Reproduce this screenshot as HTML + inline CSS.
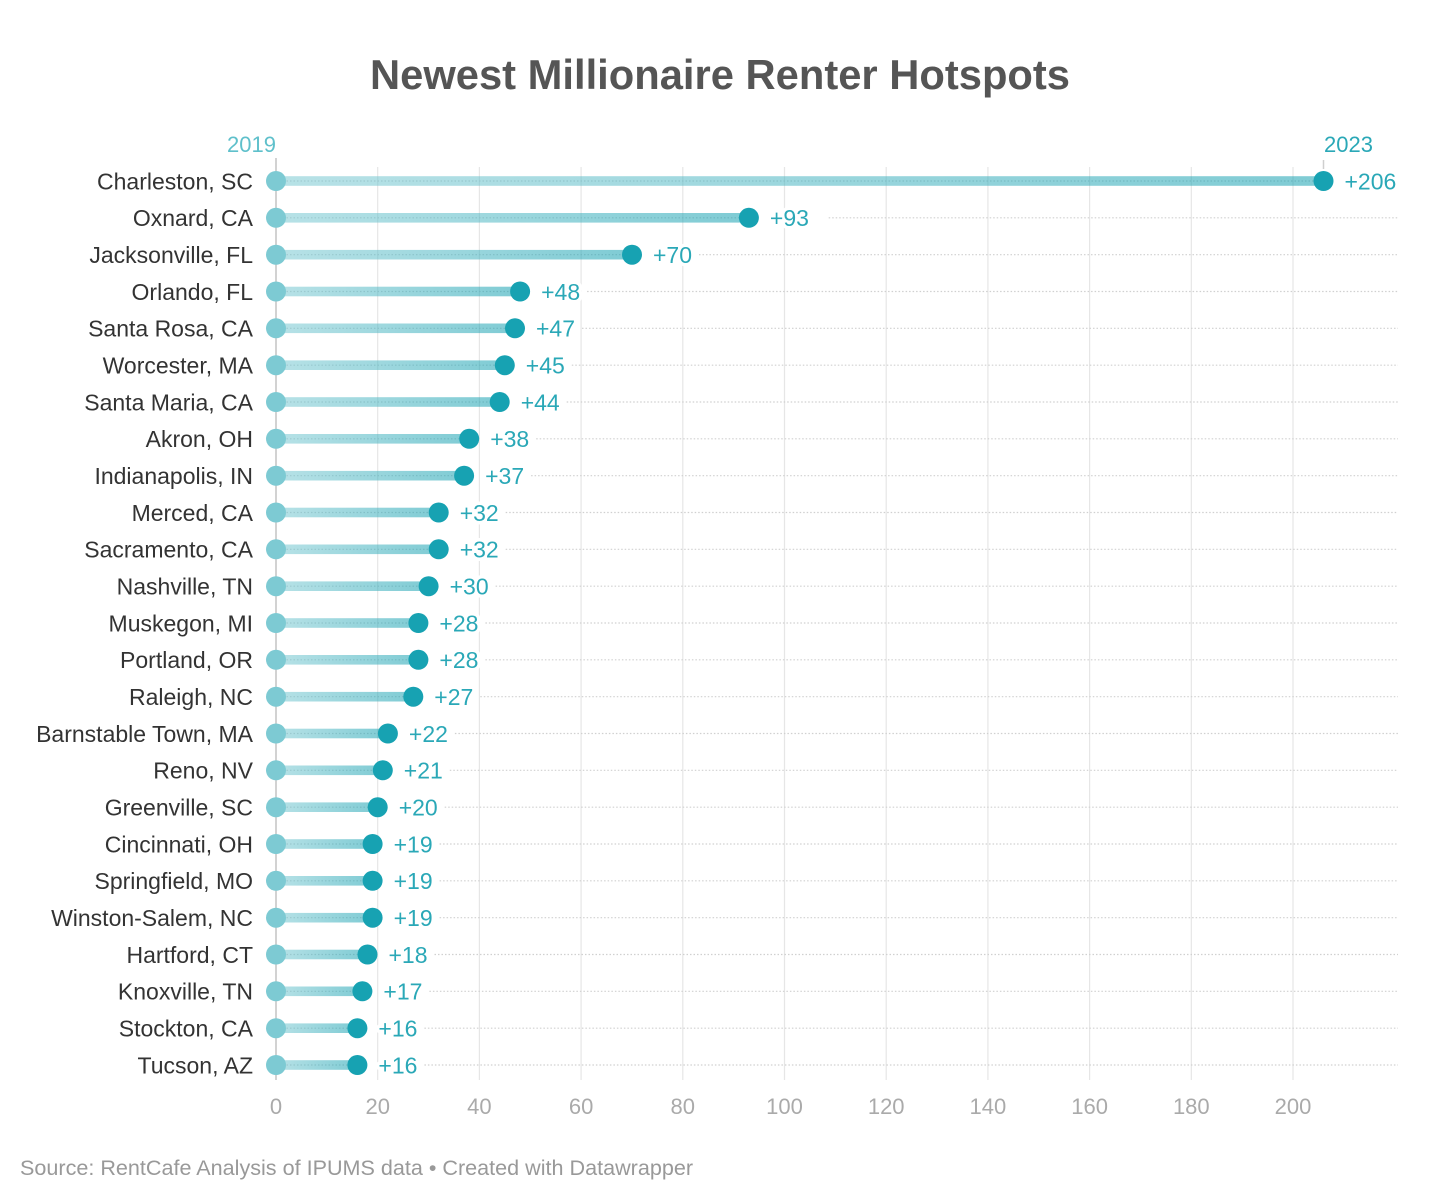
<!DOCTYPE html>
<html><head><meta charset="utf-8"><style>
html,body{margin:0;padding:0;background:#fff;}
svg{display:block;}
text{font-family:"Liberation Sans",Arial,sans-serif;}
.dl{stroke:#d0d0d0;stroke-width:1.2;stroke-dasharray:1.5 2;}
.bar{fill:url(#g);}
.s{fill:#7dcad3;}
.e{fill:#17a2b2;}
.n{font-size:23px;fill:#333;text-anchor:end;}
.v{font-size:23px;fill:#2aa8b7;stroke:#fff;stroke-width:7px;stroke-linejoin:round;paint-order:stroke;}
</style></head><body>
<svg width="1440" height="1202" viewBox="0 0 1440 1202" xmlns="http://www.w3.org/2000/svg">
<defs>
<linearGradient id="g" x1="0" y1="0" x2="1" y2="0">
<stop offset="0" stop-color="#7dcad3" stop-opacity="0.55"/>
<stop offset="1" stop-color="#16a1b1" stop-opacity="0.55"/>
</linearGradient>
</defs>
<rect width="1440" height="1202" fill="#fff"/>
<text x="720" y="89" text-anchor="middle" font-size="42" font-weight="bold" fill="#555" textLength="700" lengthAdjust="spacingAndGlyphs">Newest Millionaire Renter Hotspots</text>
<g stroke="#e6e6e6" stroke-width="1.2">
<line x1="377.7" y1="167" x2="377.7" y2="1080"/>
<line x1="479.4" y1="167" x2="479.4" y2="1080"/>
<line x1="581.1" y1="167" x2="581.1" y2="1080"/>
<line x1="682.8" y1="167" x2="682.8" y2="1080"/>
<line x1="784.5" y1="167" x2="784.5" y2="1080"/>
<line x1="886.2" y1="167" x2="886.2" y2="1080"/>
<line x1="987.9" y1="167" x2="987.9" y2="1080"/>
<line x1="1089.6" y1="167" x2="1089.6" y2="1080"/>
<line x1="1191.3" y1="167" x2="1191.3" y2="1080"/>
<line x1="1293" y1="167" x2="1293" y2="1080"/>
</g>
<line x1="276" y1="158" x2="276" y2="1080" stroke="#c4c4c4" stroke-width="1.5"/>
<line x1="1323.5" y1="160" x2="1323.5" y2="169" stroke="#cfcfcf" stroke-width="1.5"/>
<text x="276" y="152" text-anchor="end" font-size="22" fill="#5fc0cb">2019</text>
<text x="1324" y="152" text-anchor="start" font-size="22" fill="#2aa8b7">2023</text>
<g font-size="22" fill="#aaa" text-anchor="middle">
<text x="276" y="1114">0</text><text x="377.7" y="1114">20</text><text x="479.4" y="1114">40</text><text x="581.1" y="1114">60</text><text x="682.8" y="1114">80</text><text x="784.5" y="1114">100</text><text x="886.2" y="1114">120</text><text x="987.9" y="1114">140</text><text x="1089.6" y="1114">160</text><text x="1191.3" y="1114">180</text><text x="1293" y="1114">200</text>
</g>

<g transform="translate(0,181)">
<line class="dl" x1="276" y1="0" x2="1323.5" y2="0"/>
<rect class="bar" x="276" y="-4.8" width="1047.5" height="9.6"/>
<circle class="s" cx="276" cy="0" r="10"/><circle class="e" cx="1323.5" cy="0" r="10"/>
<text class="n" x="253" y="8.3">Charleston, SC</text><text class="v" x="1344.5" y="8.3">+206</text>
</g>
<g transform="translate(0,217.8)">
<line class="dl" x1="276" y1="0" x2="748.9" y2="0"/><line class="dl" x1="828.7" y1="0" x2="1398" y2="0"/>
<rect class="bar" x="276" y="-4.8" width="472.9" height="9.6"/>
<circle class="s" cx="276" cy="0" r="10"/><circle class="e" cx="748.9" cy="0" r="10"/>
<text class="n" x="253" y="8.3">Oxnard, CA</text><text class="v" x="769.9" y="8.3">+93</text>
</g>
<g transform="translate(0,254.7)">
<line class="dl" x1="276" y1="0" x2="632" y2="0"/><line class="dl" x1="699" y1="0" x2="1398" y2="0"/>
<rect class="bar" x="276" y="-4.8" width="356" height="9.6"/>
<circle class="s" cx="276" cy="0" r="10"/><circle class="e" cx="632" cy="0" r="10"/>
<text class="n" x="253" y="8.3">Jacksonville, FL</text><text class="v" x="653" y="8.3">+70</text>
</g>
<g transform="translate(0,291.5)">
<line class="dl" x1="276" y1="0" x2="520.1" y2="0"/><line class="dl" x1="587.1" y1="0" x2="1398" y2="0"/>
<rect class="bar" x="276" y="-4.8" width="244.1" height="9.6"/>
<circle class="s" cx="276" cy="0" r="10"/><circle class="e" cx="520.1" cy="0" r="10"/>
<text class="n" x="253" y="8.3">Orlando, FL</text><text class="v" x="541.1" y="8.3">+48</text>
</g>
<g transform="translate(0,328.3)">
<line class="dl" x1="276" y1="0" x2="515" y2="0"/><line class="dl" x1="582" y1="0" x2="1398" y2="0"/>
<rect class="bar" x="276" y="-4.8" width="239" height="9.6"/>
<circle class="s" cx="276" cy="0" r="10"/><circle class="e" cx="515" cy="0" r="10"/>
<text class="n" x="253" y="8.3">Santa Rosa, CA</text><text class="v" x="536" y="8.3">+47</text>
</g>
<g transform="translate(0,365.2)">
<line class="dl" x1="276" y1="0" x2="504.8" y2="0"/><line class="dl" x1="571.8" y1="0" x2="1398" y2="0"/>
<rect class="bar" x="276" y="-4.8" width="228.8" height="9.6"/>
<circle class="s" cx="276" cy="0" r="10"/><circle class="e" cx="504.8" cy="0" r="10"/>
<text class="n" x="253" y="8.3">Worcester, MA</text><text class="v" x="525.8" y="8.3">+45</text>
</g>
<g transform="translate(0,402)">
<line class="dl" x1="276" y1="0" x2="499.7" y2="0"/><line class="dl" x1="566.7" y1="0" x2="1398" y2="0"/>
<rect class="bar" x="276" y="-4.8" width="223.7" height="9.6"/>
<circle class="s" cx="276" cy="0" r="10"/><circle class="e" cx="499.7" cy="0" r="10"/>
<text class="n" x="253" y="8.3">Santa Maria, CA</text><text class="v" x="520.7" y="8.3">+44</text>
</g>
<g transform="translate(0,438.8)">
<line class="dl" x1="276" y1="0" x2="469.2" y2="0"/><line class="dl" x1="536.2" y1="0" x2="1398" y2="0"/>
<rect class="bar" x="276" y="-4.8" width="193.2" height="9.6"/>
<circle class="s" cx="276" cy="0" r="10"/><circle class="e" cx="469.2" cy="0" r="10"/>
<text class="n" x="253" y="8.3">Akron, OH</text><text class="v" x="490.2" y="8.3">+38</text>
</g>
<g transform="translate(0,475.7)">
<line class="dl" x1="276" y1="0" x2="464.1" y2="0"/><line class="dl" x1="531.1" y1="0" x2="1398" y2="0"/>
<rect class="bar" x="276" y="-4.8" width="188.1" height="9.6"/>
<circle class="s" cx="276" cy="0" r="10"/><circle class="e" cx="464.1" cy="0" r="10"/>
<text class="n" x="253" y="8.3">Indianapolis, IN</text><text class="v" x="485.1" y="8.3">+37</text>
</g>
<g transform="translate(0,512.5)">
<line class="dl" x1="276" y1="0" x2="438.7" y2="0"/><line class="dl" x1="505.7" y1="0" x2="1398" y2="0"/>
<rect class="bar" x="276" y="-4.8" width="162.7" height="9.6"/>
<circle class="s" cx="276" cy="0" r="10"/><circle class="e" cx="438.7" cy="0" r="10"/>
<text class="n" x="253" y="8.3">Merced, CA</text><text class="v" x="459.7" y="8.3">+32</text>
</g>
<g transform="translate(0,549.3)">
<line class="dl" x1="276" y1="0" x2="438.7" y2="0"/><line class="dl" x1="505.7" y1="0" x2="1398" y2="0"/>
<rect class="bar" x="276" y="-4.8" width="162.7" height="9.6"/>
<circle class="s" cx="276" cy="0" r="10"/><circle class="e" cx="438.7" cy="0" r="10"/>
<text class="n" x="253" y="8.3">Sacramento, CA</text><text class="v" x="459.7" y="8.3">+32</text>
</g>
<g transform="translate(0,586.2)">
<line class="dl" x1="276" y1="0" x2="428.6" y2="0"/><line class="dl" x1="495.6" y1="0" x2="1398" y2="0"/>
<rect class="bar" x="276" y="-4.8" width="152.6" height="9.6"/>
<circle class="s" cx="276" cy="0" r="10"/><circle class="e" cx="428.6" cy="0" r="10"/>
<text class="n" x="253" y="8.3">Nashville, TN</text><text class="v" x="449.6" y="8.3">+30</text>
</g>
<g transform="translate(0,623)">
<line class="dl" x1="276" y1="0" x2="418.4" y2="0"/><line class="dl" x1="485.4" y1="0" x2="1398" y2="0"/>
<rect class="bar" x="276" y="-4.8" width="142.4" height="9.6"/>
<circle class="s" cx="276" cy="0" r="10"/><circle class="e" cx="418.4" cy="0" r="10"/>
<text class="n" x="253" y="8.3">Muskegon, MI</text><text class="v" x="439.4" y="8.3">+28</text>
</g>
<g transform="translate(0,659.8)">
<line class="dl" x1="276" y1="0" x2="418.4" y2="0"/><line class="dl" x1="485.4" y1="0" x2="1398" y2="0"/>
<rect class="bar" x="276" y="-4.8" width="142.4" height="9.6"/>
<circle class="s" cx="276" cy="0" r="10"/><circle class="e" cx="418.4" cy="0" r="10"/>
<text class="n" x="253" y="8.3">Portland, OR</text><text class="v" x="439.4" y="8.3">+28</text>
</g>
<g transform="translate(0,696.7)">
<line class="dl" x1="276" y1="0" x2="413.3" y2="0"/><line class="dl" x1="480.3" y1="0" x2="1398" y2="0"/>
<rect class="bar" x="276" y="-4.8" width="137.3" height="9.6"/>
<circle class="s" cx="276" cy="0" r="10"/><circle class="e" cx="413.3" cy="0" r="10"/>
<text class="n" x="253" y="8.3">Raleigh, NC</text><text class="v" x="434.3" y="8.3">+27</text>
</g>
<g transform="translate(0,733.5)">
<line class="dl" x1="276" y1="0" x2="387.9" y2="0"/><line class="dl" x1="454.9" y1="0" x2="1398" y2="0"/>
<rect class="bar" x="276" y="-4.8" width="111.9" height="9.6"/>
<circle class="s" cx="276" cy="0" r="10"/><circle class="e" cx="387.9" cy="0" r="10"/>
<text class="n" x="253" y="8.3">Barnstable Town, MA</text><text class="v" x="408.9" y="8.3">+22</text>
</g>
<g transform="translate(0,770.3)">
<line class="dl" x1="276" y1="0" x2="382.8" y2="0"/><line class="dl" x1="449.8" y1="0" x2="1398" y2="0"/>
<rect class="bar" x="276" y="-4.8" width="106.8" height="9.6"/>
<circle class="s" cx="276" cy="0" r="10"/><circle class="e" cx="382.8" cy="0" r="10"/>
<text class="n" x="253" y="8.3">Reno, NV</text><text class="v" x="403.8" y="8.3">+21</text>
</g>
<g transform="translate(0,807.2)">
<line class="dl" x1="276" y1="0" x2="377.7" y2="0"/><line class="dl" x1="444.7" y1="0" x2="1398" y2="0"/>
<rect class="bar" x="276" y="-4.8" width="101.7" height="9.6"/>
<circle class="s" cx="276" cy="0" r="10"/><circle class="e" cx="377.7" cy="0" r="10"/>
<text class="n" x="253" y="8.3">Greenville, SC</text><text class="v" x="398.7" y="8.3">+20</text>
</g>
<g transform="translate(0,844)">
<line class="dl" x1="276" y1="0" x2="372.6" y2="0"/><line class="dl" x1="439.6" y1="0" x2="1398" y2="0"/>
<rect class="bar" x="276" y="-4.8" width="96.6" height="9.6"/>
<circle class="s" cx="276" cy="0" r="10"/><circle class="e" cx="372.6" cy="0" r="10"/>
<text class="n" x="253" y="8.3">Cincinnati, OH</text><text class="v" x="393.6" y="8.3">+19</text>
</g>
<g transform="translate(0,880.8)">
<line class="dl" x1="276" y1="0" x2="372.6" y2="0"/><line class="dl" x1="439.6" y1="0" x2="1398" y2="0"/>
<rect class="bar" x="276" y="-4.8" width="96.6" height="9.6"/>
<circle class="s" cx="276" cy="0" r="10"/><circle class="e" cx="372.6" cy="0" r="10"/>
<text class="n" x="253" y="8.3">Springfield, MO</text><text class="v" x="393.6" y="8.3">+19</text>
</g>
<g transform="translate(0,917.7)">
<line class="dl" x1="276" y1="0" x2="372.6" y2="0"/><line class="dl" x1="439.6" y1="0" x2="1398" y2="0"/>
<rect class="bar" x="276" y="-4.8" width="96.6" height="9.6"/>
<circle class="s" cx="276" cy="0" r="10"/><circle class="e" cx="372.6" cy="0" r="10"/>
<text class="n" x="253" y="8.3">Winston-Salem, NC</text><text class="v" x="393.6" y="8.3">+19</text>
</g>
<g transform="translate(0,954.5)">
<line class="dl" x1="276" y1="0" x2="367.5" y2="0"/><line class="dl" x1="434.5" y1="0" x2="1398" y2="0"/>
<rect class="bar" x="276" y="-4.8" width="91.5" height="9.6"/>
<circle class="s" cx="276" cy="0" r="10"/><circle class="e" cx="367.5" cy="0" r="10"/>
<text class="n" x="253" y="8.3">Hartford, CT</text><text class="v" x="388.5" y="8.3">+18</text>
</g>
<g transform="translate(0,991.3)">
<line class="dl" x1="276" y1="0" x2="362.4" y2="0"/><line class="dl" x1="429.4" y1="0" x2="1398" y2="0"/>
<rect class="bar" x="276" y="-4.8" width="86.4" height="9.6"/>
<circle class="s" cx="276" cy="0" r="10"/><circle class="e" cx="362.4" cy="0" r="10"/>
<text class="n" x="253" y="8.3">Knoxville, TN</text><text class="v" x="383.4" y="8.3">+17</text>
</g>
<g transform="translate(0,1028.2)">
<line class="dl" x1="276" y1="0" x2="357.4" y2="0"/><line class="dl" x1="424.4" y1="0" x2="1398" y2="0"/>
<rect class="bar" x="276" y="-4.8" width="81.4" height="9.6"/>
<circle class="s" cx="276" cy="0" r="10"/><circle class="e" cx="357.4" cy="0" r="10"/>
<text class="n" x="253" y="8.3">Stockton, CA</text><text class="v" x="378.4" y="8.3">+16</text>
</g>
<g transform="translate(0,1065)">
<line class="dl" x1="276" y1="0" x2="357.4" y2="0"/><line class="dl" x1="424.4" y1="0" x2="1398" y2="0"/>
<rect class="bar" x="276" y="-4.8" width="81.4" height="9.6"/>
<circle class="s" cx="276" cy="0" r="10"/><circle class="e" cx="357.4" cy="0" r="10"/>
<text class="n" x="253" y="8.3">Tucson, AZ</text><text class="v" x="378.4" y="8.3">+16</text>
</g>

<text x="20" y="1175" font-size="21.5" fill="#999" textLength="673" lengthAdjust="spacingAndGlyphs">Source: RentCafe Analysis of IPUMS data • Created with Datawrapper</text>
</svg>
</body></html>
